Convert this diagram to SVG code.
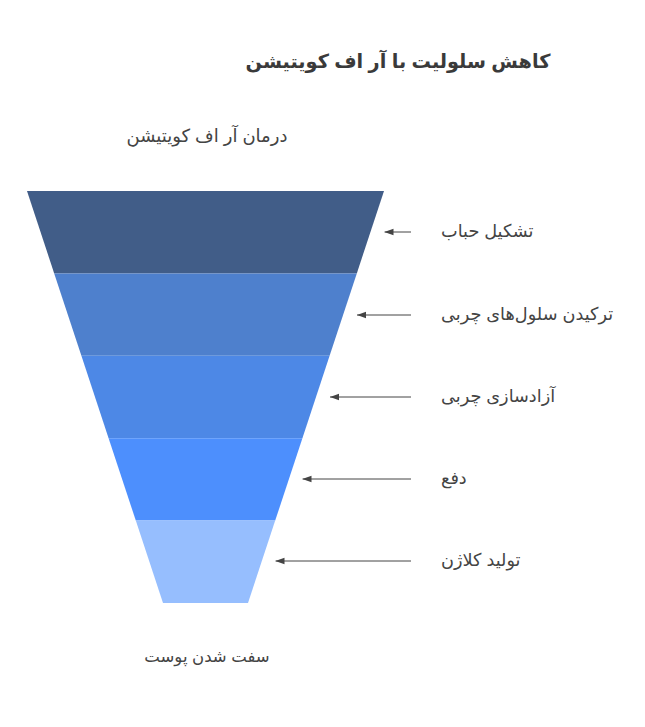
<svg xmlns="http://www.w3.org/2000/svg" width="645" height="727" viewBox="0 0 645 727">
<defs>
<style>
.t{font-family:"Liberation Sans","DejaVu Sans",Arial,sans-serif;fill:#444;}
.title{font-size:19.3px;font-weight:bold;fill:#3a3a3a;}
.lbl{font-size:17.7px;}
.con line{stroke:#444;stroke-width:1;}
</style>
<marker id="ah" viewBox="0 0 10 10" refX="10" refY="5" markerWidth="9" markerHeight="9" orient="auto" markerUnits="userSpaceOnUse">
<path d="M0,1.5 L10,5 L0,8.5 Z" fill="#444"/>
</marker>
</defs>
<rect width="645" height="727" fill="#fff"/>
<text class="t title" x="398" y="68" text-anchor="middle">کاهش سلولیت با آر اف کویتیشن</text>
<text class="t lbl" x="207" y="142" text-anchor="middle" style="font-size:18px">درمان آر اف کویتیشن</text>
<g id="n1"><polygon points="27,191 384,191 356.8,273.4 54.2,273.4" fill="#415D88"/></g>
<g id="n2"><polygon points="54.2,273.4 356.8,273.4 329.6,355.8 81.4,355.8" fill="#4E80CD"/></g>
<g id="n3"><polygon points="81.4,355.8 329.6,355.8 302.4,438.2 108.6,438.2" fill="#4D88E6"/></g>
<g id="n4"><polygon points="108.6,438.2 302.4,438.2 275.2,520.6 135.8,520.6" fill="#4D8FFD"/></g>
<g id="n5"><polygon points="135.8,520.6 275.2,520.6 248,603 163,603" fill="#96BEFE"/></g>
<g id="connectors" class="con">
<line x1="411" y1="232" x2="384.5" y2="232" marker-end="url(#ah)"/>
<line x1="411" y1="315" x2="357" y2="315" marker-end="url(#ah)"/>
<line x1="411" y1="397" x2="330" y2="397" marker-end="url(#ah)"/>
<line x1="411" y1="479" x2="302.5" y2="479" marker-end="url(#ah)"/>
<line x1="411" y1="561" x2="275.5" y2="561" marker-end="url(#ah)"/>
</g>
<g id="labels">
<text class="t lbl" x="441" y="237">تشکیل حباب</text>
<text class="t lbl" x="441" y="320">ترکیدن سلول‌های چربی</text>
<text class="t lbl" x="441" y="402">آزادسازی چربی</text>
<text class="t lbl" x="441" y="484">دفع</text>
<text class="t lbl" x="441" y="566">تولید کلاژن</text>
</g>
<text class="t lbl" x="207" y="662" text-anchor="middle" style="font-size:16.5px">سفت شدن پوست</text>
</svg>
